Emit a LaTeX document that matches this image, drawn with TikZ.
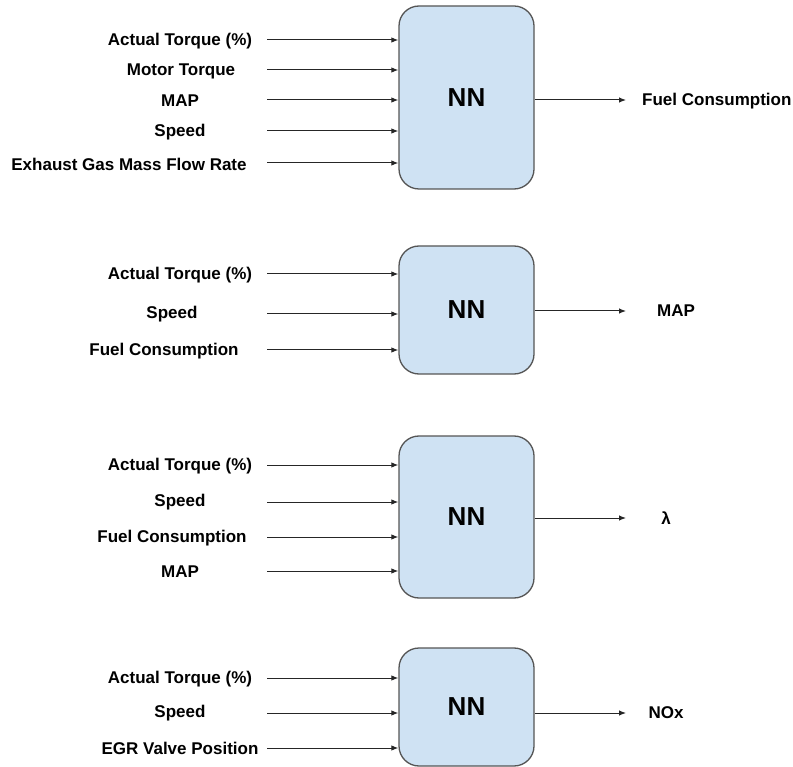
\documentclass[tikz,border=0pt]{standalone}
\usepackage{fontspec}
\setmainfont{Liberation Sans}
\usetikzlibrary{arrows.meta}
\definecolor{boxfill}{HTML}{CFE2F3}
\definecolor{boxline}{HTML}{555555}
\tikzset{
  nnbox/.style={draw=boxline, line width=1.3pt, fill=boxfill, rounded corners=20pt,
    minimum width=135pt, inner sep=0pt, font=\fontsize{26}{30}\selectfont\bfseries},
  lbl/.style={inner sep=0pt, font=\fontsize{17}{20}\selectfont\bfseries},
  arr/.style={draw=black!85, line width=1pt, -{Latex[length=7pt,width=5.5pt]}}
}
\begin{document}
\begin{tikzpicture}[x=1pt,y=-1pt]
\useasboundingbox (0,0) rectangle (793,767);
% Box 1
\node[nnbox, minimum height=183pt] (b1) at (466.5,97.5) {NN};
\node[lbl] (l11) at (180,41) {Actual Torque (\%)};
\node[lbl] (l12) at (181,71) {Motor Torque};
\node[lbl] (l13) at (180,101) {MAP};
\node[lbl] (l14) at (180,132) {Speed};
\node[lbl] (l15) at (129,164) {Exhaust Gas Mass Flow Rate};
\foreach \i/\y in {1/40,2/70,3/100,4/131,5/163}{
  \coordinate (s1\i) at (267,\y);
  \draw[arr] (s1\i) -- (s1\i -| b1.west);
}
\coordinate (e1) at (626,100);
\draw[arr] (b1.east |- e1) -- (e1);
\node[lbl, anchor=west] (o1) at (642,101) {Fuel Consumption};
% Box 2
\node[nnbox, minimum height=128pt] (b2) at (466.5,310) {NN};
\node[lbl] (l21) at (180,275) {Actual Torque (\%)};
\node[lbl] (l22) at (172,314) {Speed};
\node[lbl] (l23) at (164,351) {Fuel Consumption};
\foreach \i/\y in {1/274,2/314,3/350}{
  \coordinate (s2\i) at (267,\y);
  \draw[arr] (s2\i) -- (s2\i -| b2.west);
}
\coordinate (e2) at (626,311);
\draw[arr] (b2.east |- e2) -- (e2);
\node[lbl] (o2) at (676,311) {MAP};
% Box 3
\node[nnbox, minimum height=162pt] (b3) at (466.5,517) {NN};
\node[lbl] (l31) at (180,466) {Actual Torque (\%)};
\node[lbl] (l32) at (180,502) {Speed};
\node[lbl] (l33) at (172,538) {Fuel Consumption};
\node[lbl] (l34) at (180,572) {MAP};
\foreach \i/\y in {1/465,2/502,3/537,4/571}{
  \coordinate (s3\i) at (267,\y);
  \draw[arr] (s3\i) -- (s3\i -| b3.west);
}
\coordinate (e3) at (626,518);
\draw[arr] (b3.east |- e3) -- (e3);
\node[lbl] (o3) at (666,518) {λ};
% Box 4
\node[nnbox, minimum height=118pt] (b4) at (466.5,707) {NN};
\node[lbl] (l41) at (180,679) {Actual Torque (\%)};
\node[lbl] (l42) at (180,713) {Speed};
\node[lbl] (l43) at (180,748) {EGR Valve Position};
\foreach \i/\y in {1/678,2/713,3/748}{
  \coordinate (s4\i) at (267,\y);
  \draw[arr] (s4\i) -- (s4\i -| b4.west);
}
\coordinate (e4) at (626,713);
\draw[arr] (b4.east |- e4) -- (e4);
\node[lbl] (o4) at (666,713) {NOx};
\end{tikzpicture}
\end{document}
